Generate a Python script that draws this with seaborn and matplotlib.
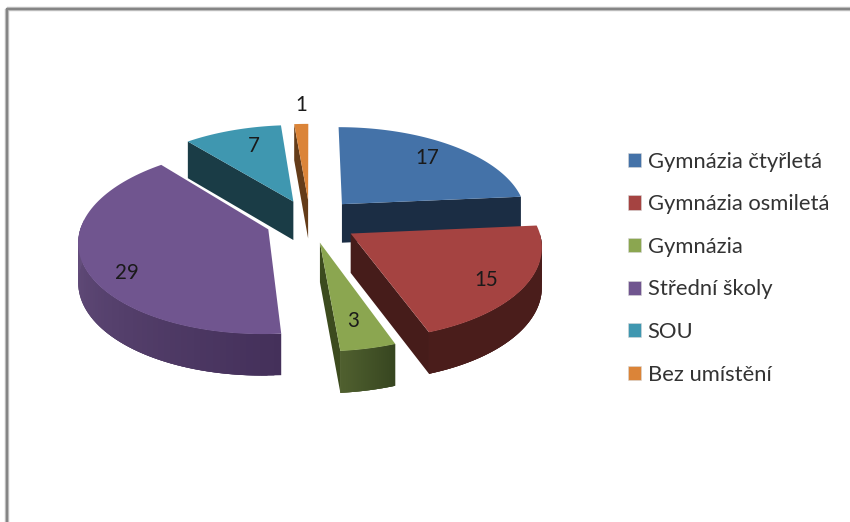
import numpy as np
import matplotlib
matplotlib.use("Agg")
import matplotlib.pyplot as plt
from matplotlib.colors import to_rgb
from matplotlib.patches import Patch
import seaborn as sns

# Data
categories = ["Gymnázia čtyřletá", "Gymnázia osmiletá", "Gymnázia", "Střední školy", "SOU", "Bez umístění"]
values = [17, 15, 3, 29, 7, 1]

# Colours for the top of each slice, the cut side and the rim (two ends of a gradient)
top_colors = ["#4472A8", "#A54341", "#8BA650", "#70558F", "#3F97B0", "#DB8438"]
cut_colors = ["#1B2D44", "#461C1A", "#3C4B1E", "#46305A", "#1A3C46", "#643C19"]
rim_start = ["#1B2D44", "#4A1D1B", "#374620", "#44305A", "#1A3C46", "#643C19"]
rim_end = ["#1B2D44", "#4A1D1B", "#50602F", "#644E7C", "#1A3C46", "#643C19"]

# Layout in pixels
explode = [0.26, 0.255, 0.24, 0.24, 0.24, 0.24]
center_x, center_y = 310, 221
radius_x, radius_y = 186, 90
persp = 0.12
thickness = 39
label_pos = [(427, 158), (486, 280), (353, 321), (127, 273), (254, 146), (301, 105)]
draw_order = [5, 4, 0, 3, 2, 1]


def project(u, v, down=0.0):
    s = 1 / (1 + persp * v)
    x = center_x + radius_x * u * s
    y = center_y - radius_y * v * s + down * thickness * (1 - 0.06 * v)
    return x, y


sns.set_theme(style="white")
plt.rcParams["font.family"] = ["Lato", "DejaVu Sans"]
palette = sns.color_palette(top_colors)

fig = plt.figure(figsize=(8.5, 5.22), dpi=100)
ax = fig.add_axes([0, 0, 1, 1])
ax.set_xlim(0, 850)
ax.set_ylim(522, 0)
ax.axis("off")

# Chart border, cut off on the right and at the bottom
ax.plot([7, 7], [9, 522], color="#C8C8C8", lw=3.2, solid_capstyle="butt")
ax.plot([7, 850], [9, 9], color="#C8C8C8", lw=3.2, solid_capstyle="butt")
ax.plot([7, 7], [8, 522], color="#858585", lw=1.7, solid_capstyle="butt")
ax.plot([6, 850], [9, 9], color="#858585", lw=1.7, solid_capstyle="butt")

edges = np.cumsum([0] + values) / sum(values) * 360

for i in draw_order:
    t0, t1 = edges[i], edges[i + 1]
    mid = np.radians((t0 + t1) / 2)
    apex_u, apex_v = explode[i] * np.sin(mid), explode[i] * np.cos(mid)

    thetas = np.radians(np.linspace(t0, t1, 80))
    rim_u = apex_u + np.sin(thetas)
    rim_v = apex_v + np.cos(thetas)

    # Cut sides that face the viewer
    for t, idx in [(t0, 0), (t1, -1)]:
        facing = np.sin(np.radians(t)) < 0 if idx == 0 else np.sin(np.radians(t)) > 0
        if facing:
            px = [project(apex_u, apex_v), project(rim_u[idx], rim_v[idx]),
                  project(rim_u[idx], rim_v[idx], 1), project(apex_u, apex_v, 1)]
            ax.fill(*zip(*px), color=cut_colors[i], lw=0)

    # Outer rim, drawn in short overlapping pieces for the gradient
    c_a, c_b = np.array(to_rgb(rim_start[i])), np.array(to_rgb(rim_end[i]))
    front = [j for j in range(len(thetas) - 1) if np.cos(thetas[j]) < 0.02]
    for n, j in enumerate(front):
        f = n / max(len(front) - 1, 1)
        k = min(j + 3, len(thetas) - 1)
        px = [project(rim_u[j], rim_v[j]), project(rim_u[k], rim_v[k]),
              project(rim_u[k], rim_v[k], 1), project(rim_u[j], rim_v[j], 1)]
        ax.fill(*zip(*px), color=tuple(c_a + (c_b - c_a) * f), lw=0)

    # Top of the slice
    top = [project(apex_u, apex_v)] + [project(a, b) for a, b in zip(rim_u, rim_v)]
    ax.fill(*zip(*top), color=palette[i], lw=0)

# Value labels
for val, (lx, ly) in zip(values, label_pos):
    ax.text(lx, ly, str(val), ha="center", va="center", fontsize=14.8, color="#1A1A1A")

# Legend
handles = [Patch(facecolor=c, edgecolor="#D8D8D8", lw=0.4) for c in palette]
ax.legend(handles, categories, loc="upper left", bbox_to_anchor=(621, 145),
          bbox_transform=ax.transData, frameon=False, fontsize=15.8, handlelength=0.62,
          handleheight=0.62, handletextpad=0.3, labelspacing=1.03, borderpad=0.3,
          borderaxespad=0, labelcolor="#333333")

fig.savefig("out.png", dpi=100)
